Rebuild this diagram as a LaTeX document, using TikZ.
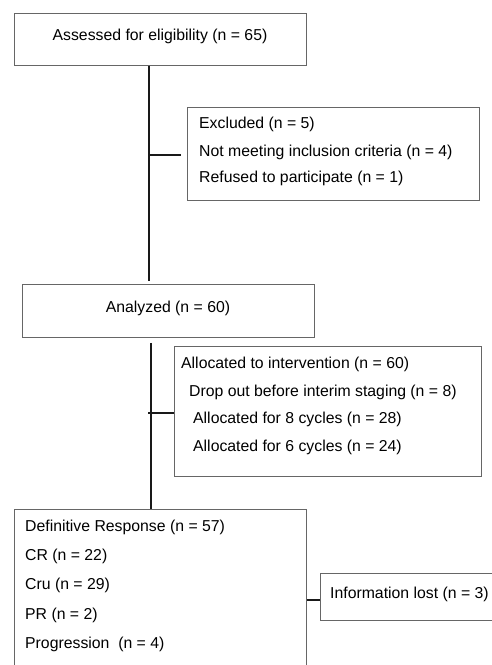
\documentclass[tikz,border=0pt]{standalone}
\usepackage{fontspec}
\setmainfont{Liberation Sans}
\usetikzlibrary{positioning}
\begin{document}
\begin{tikzpicture}[x=1pt,y=-1pt]
\tikzstyle{every node}+=[inner sep=0pt]
\tikzstyle{box}=[draw=black!60,line width=0.9pt,rectangle,anchor=north west]
\tikzstyle{link}=[black!90,line width=2.6pt]
\tikzstyle{txt}=[anchor=west,yshift=-1.5pt,font=\fontsize{15.8}{18}\selectfont]
\useasboundingbox (0,0) rectangle (492,665);
\clip (0,0) rectangle (492,665);
% boxes
\node[box,minimum width=292,minimum height=52] (assess) at (14,13) {};
\node[txt,anchor=center] (assesstxt) at (160,35) {Assessed for eligibility (n = 65)};
\node[box,minimum width=292,minimum height=93] (excl) at (187,107) {};
\node[txt] (excl1) at (199,123) {Excluded (n = 5)};
\node[txt] (excl2) at (199,151) {Not meeting inclusion criteria (n = 4)};
\node[txt] (excl3) at (199,177) {Refused to participate (n = 1)};
\node[box,minimum width=292,minimum height=53] (anal) at (22,284) {};
\node[txt,anchor=center] (analtxt) at (168,307) {Analyzed (n = 60)};
\node[box,minimum width=307,minimum height=130] (alloc) at (174,346) {};
\node[txt] (alloc1) at (181,363) {Allocated to intervention (n = 60)};
\node[txt] (alloc2) at (189,391) {Drop out before interim staging (n = 8)};
\node[txt] (alloc3) at (193,418) {Allocated for 8 cycles (n = 28)};
\node[txt] (alloc4) at (193,446) {Allocated for 6 cycles (n = 24)};
\node[box,minimum width=292,minimum height=170] (resp) at (14,509) {};
\node[txt] (resp1) at (25,526) {Definitive Response (n = 57)};
\node[txt] (resp2) at (25,555) {CR (n = 22)};
\node[txt] (resp3) at (25,584) {Cru (n = 29)};
\node[txt] (resp4) at (25,614) {PR (n = 2)};
\node[txt] (resp5) at (25,643) {Progression~ (n = 4)};
\node[box,minimum width=180,minimum height=47] (lost) at (320,573) {};
\node[txt] (losttxt) at (330,593) {Information lost (n = 3)};
% connectors
\coordinate (trunkA) at (149,0);
\coordinate (trunkB) at (151,0);
\coordinate (branchA) at (0,155);
\coordinate (branchB) at (0,413);
\coordinate (branchC) at (0,600);
\draw[link,shorten >=3] (assess.south -| trunkA) -- (anal.north -| trunkA);
\draw[link,shorten >=6] (branchA -| trunkA) -- (branchA -| excl.west);
\draw[link,shorten <=5] (anal.south -| trunkB) -- (resp.north -| trunkB);
\draw[link] (branchB -| 148,0) -- (branchB -| alloc.west);
\draw[link] (branchC -| resp.east) -- (branchC -| lost.west);
\end{tikzpicture}
\end{document}
